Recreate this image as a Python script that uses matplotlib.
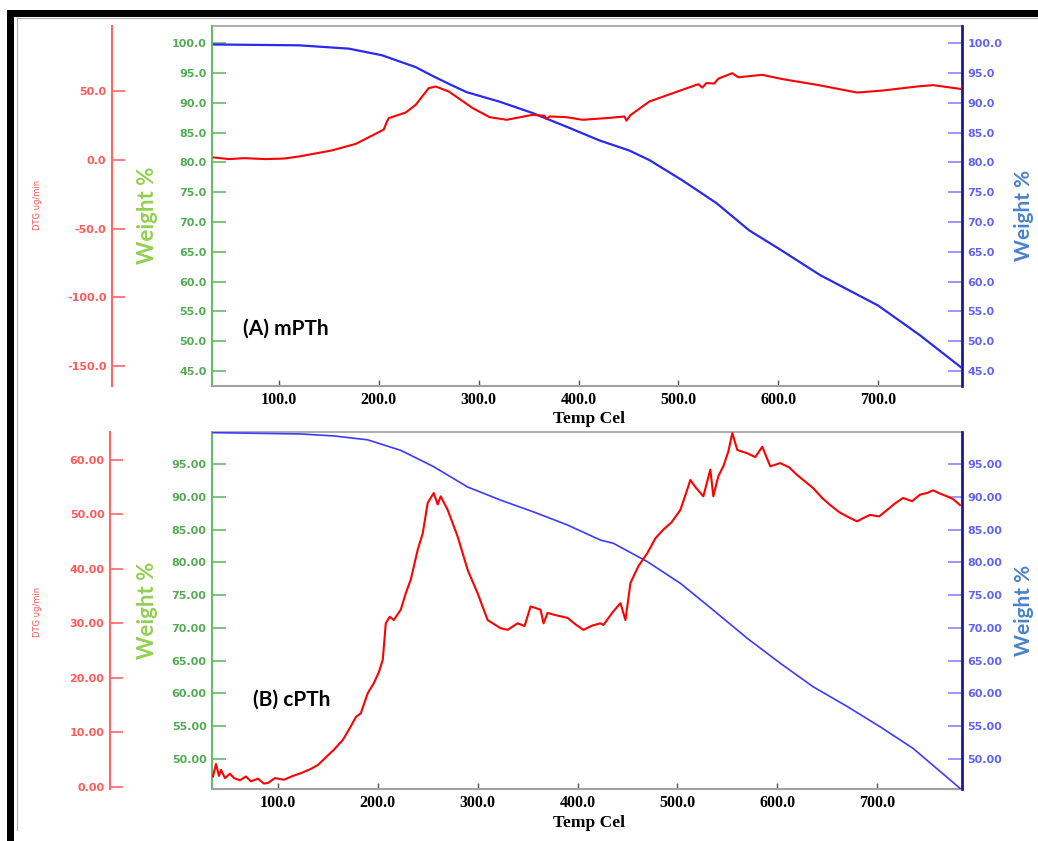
import matplotlib
matplotlib.use("Agg")
import matplotlib.pyplot as plt
from matplotlib.patches import Rectangle
from matplotlib.ticker import FormatStrFormatter

# (A) mPTh - weight % curve
top_wt_temp = [35, 120, 170, 203, 237, 253, 270, 288, 321, 354, 388, 421, 451, 471,
               504, 538, 571, 600, 642, 700, 742, 784]
top_wt = [99.8, 99.66, 99.1, 98.0, 96.0, 94.6, 93.2, 91.8, 90.2, 88.3, 86.0, 83.7, 82.0, 80.4,
          77.0, 73.2, 68.6, 65.6, 61.1, 56.0, 51.0, 45.5]

# (A) mPTh - DTG curve
top_dtg_temp = [35, 50, 65, 87, 105, 120, 153, 177, 193, 205, 208, 210, 227, 237, 250, 257,
                270, 294, 311, 328, 354, 366, 368, 371, 388, 404, 428, 446, 448, 452, 471,
                504, 520, 524, 528, 536, 540, 554, 560, 584, 604, 639, 679, 705, 739, 755, 782]
top_dtg = [1.7, 0.5, 1.2, 0.5, 0.9, 2.4, 6.8, 11.6, 17.5, 22.0, 27.5, 30.3, 34.4, 40.0, 52.1, 53.3,
           49.7, 37.6, 31.0, 29.1, 32.7, 32.0, 29.5, 31.5, 31.0, 29.1, 30.3, 31.5, 28.5, 32.5, 42.4,
           50.9, 55.0, 52.5, 55.8, 55.5, 59.0, 63.0, 60.0, 61.8, 58.7, 54.5, 48.9, 50.4, 53.3, 54.3, 51.6]

# (B) cPTh - weight % curve
bot_wt_temp = [35, 123, 156, 190, 223, 256, 290, 323, 356, 390, 423, 436, 470, 503,
               536, 570, 603, 636, 670, 703, 736, 783]
bot_wt = [99.8, 99.6, 99.3, 98.7, 97.1, 94.6, 91.5, 89.5, 87.7, 85.7, 83.4, 82.9, 80.1, 76.8,
          72.7, 68.4, 64.6, 61.0, 58.0, 54.9, 51.6, 45.5]

# (B) cPTh - DTG curve
bot_dtg_temp = [35, 38, 41, 43, 47, 52, 56, 62, 68, 73, 80, 86, 90, 97, 106, 115, 123, 132, 140,
                148, 156, 165, 173, 178, 183, 190, 196, 201, 205, 208, 212, 216, 223, 228, 233,
                240, 245, 250, 256, 260, 263, 270, 280, 290, 300, 310, 323, 330, 340, 347, 353,
                363, 366, 370, 378, 390, 398, 406, 415, 423, 426, 435, 443, 448, 453, 461, 470,
                478, 486, 494, 503, 508, 513, 518, 526, 533, 536, 541, 546, 551, 555, 560, 570,
                578, 585, 593, 603, 612, 620, 628, 636, 645, 653, 662, 670, 680, 686, 693, 702,
                710, 718, 726, 735, 743, 750, 756, 763, 770, 776, 783]
bot_dtg = [1.9, 4.2, 2.0, 3.1, 1.6, 2.4, 1.6, 1.2, 1.9, 1.0, 1.5, 0.6, 0.7, 1.6, 1.3, 2.0, 2.5, 3.2, 4.0,
           5.4, 6.8, 8.6, 11.1, 12.8, 13.5, 17.2, 19.0, 21.0, 23.3, 30.0, 31.2, 30.6, 32.5, 35.5, 38.0,
           43.5, 46.5, 52.1, 53.9, 51.8, 53.3, 50.8, 45.9, 39.8, 35.5, 30.6, 29.1, 28.8, 30.0, 29.5, 33.1,
           32.5, 30.0, 31.9, 31.5, 31.0, 29.8, 28.8, 29.6, 30.0, 29.7, 32.0, 33.7, 30.6, 37.4, 40.5, 42.9,
           45.6, 47.2, 48.5, 50.8, 53.5, 56.3, 55.0, 53.3, 58.2, 53.3, 57.0, 58.8, 61.5, 64.9, 61.8, 61.2,
           60.5, 62.4, 58.8, 59.4, 58.6, 57.2, 56.0, 54.8, 53.0, 51.7, 50.4, 49.6, 48.7, 49.3, 49.9, 49.6,
           50.8, 52.0, 53.0, 52.4, 53.6, 53.9, 54.4, 53.8, 53.3, 52.8, 51.7]

x_ticks = [100, 200, 300, 400, 500, 600, 700]
top_wt_ticks = [45, 50, 55, 60, 65, 70, 75, 80, 85, 90, 95, 100]
top_dtg_ticks = [-150, -100, -50, 0, 50]
bot_wt_ticks = [50, 55, 60, 65, 70, 75, 80, 85, 90, 95]
bot_dtg_ticks = [0, 10, 20, 30, 40, 50, 60]

W, H = 1038, 841
GREEN = "#55aa55"
RED = "#ff5a5a"
BLUE_TXT = "#6262f5"
TICK_FONT = {"family": "DejaVu Sans", "weight": "bold", "size": 8}


def fx(x):
    return x / W


def fy(y):
    return 1 - y / H


def draw_panel(fig, box, wt_t, wt, dtg_t, dtg, xlim, wlim, wticks, wfmt,
               dlim, dticks, dfmt, tag, tag_xy, red_pos, blue_color, blue_lw):
    left, top, right, bottom = box
    ax = fig.add_axes([fx(left), fy(bottom), fx(right) - fx(left), fy(top) - fy(bottom)])
    axb = ax.twinx()
    axd = ax.twinx()

    # green weight axis on the left
    ax.set_xlim(xlim)
    ax.set_ylim(wlim)
    ax.set_yticks(wticks)
    ax.yaxis.set_major_formatter(FormatStrFormatter(wfmt))
    ax.tick_params(axis="y", direction="in", length=10, width=1.2, color="#66bb66",
                   labelcolor=GREEN, pad=4)
    ax.set_xticks(x_ticks)
    ax.xaxis.set_major_formatter(FormatStrFormatter("%.1f"))
    ax.tick_params(axis="x", direction="in", length=4, width=1, color="#555555", pad=4)
    for lab in ax.get_yticklabels():
        lab.set_fontproperties(TICK_FONT)
    for lab in ax.get_xticklabels():
        lab.set_fontfamily("Liberation Serif")
        lab.set_fontweight("bold")
        lab.set_fontsize(11.5)
    ax.spines["left"].set_color("#66bb66")
    ax.spines["left"].set_linewidth(1.5)
    ax.spines["top"].set_color("#a0a0a0")
    ax.spines["bottom"].set_color("#a0a0a0")
    ax.spines["top"].set_linewidth(1.2)
    ax.spines["bottom"].set_linewidth(1.5)
    ax.spines["right"].set_visible(False)

    # blue weight axis on the right
    axb.set_ylim(wlim)
    axb.set_yticks(wticks)
    axb.yaxis.set_major_formatter(FormatStrFormatter(wfmt))
    axb.tick_params(axis="y", direction="in", length=10, width=1.2, color="#8888ff",
                    labelcolor=BLUE_TXT, pad=4)
    for lab in axb.get_yticklabels():
        lab.set_fontproperties(TICK_FONT)
    for s in ["left", "top", "bottom"]:
        axb.spines[s].set_visible(False)
    axb.spines["right"].set_color("#1a1a99")
    axb.spines["right"].set_linewidth(2)
    axb.plot(wt_t, wt, color=blue_color, lw=blue_lw, zorder=3)

    # red DTG axis, detached to the left
    axd.set_ylim(dlim)
    axd.set_yticks(dticks)
    axd.yaxis.set_major_formatter(FormatStrFormatter(dfmt))
    axd.yaxis.tick_left()
    for s in ["right", "top", "bottom"]:
        axd.spines[s].set_visible(False)
    axd.spines["left"].set_position(("axes", (red_pos - left) / (right - left)))
    axd.spines["left"].set_color("#ff6666")
    axd.spines["left"].set_linewidth(1.5)
    axd.tick_params(axis="y", direction="in", length=9, width=1.2, color="#ff6666",
                    labelcolor=RED, pad=4)
    for lab in axd.get_yticklabels():
        lab.set_fontproperties(TICK_FONT)
    axd.plot(dtg_t, dtg, color="#ff0000", lw=1.5, zorder=3)

    ax.text(tag_xy[0], tag_xy[1], tag, transform=ax.transAxes, fontfamily="Lato",
            fontweight="bold", fontsize=15, va="center", ha="left", color="black")
    return ax


fig = plt.figure(figsize=(W / 100, H / 100), dpi=100)

draw_panel(fig, (212, 26, 962, 386), top_wt_temp, top_wt, top_dtg_temp, top_dtg,
           (33, 784), (42.5, 102.9), top_wt_ticks, "%.1f",
           (-164.5, 97.3), top_dtg_ticks, "%.1f", "(A) mPTh", (0.041, 0.16), 112,
           "#2a2aee", 1.6)
draw_panel(fig, (212, 432, 962, 789), bot_wt_temp, bot_wt, bot_dtg_temp, bot_dtg,
           (34, 785), (45.4, 99.9), bot_wt_ticks, "%.2f",
           (-0.4, 65.1), bot_dtg_ticks, "%.2f", "(B) cPTh", (0.055, 0.25), 110,
           "#3b3bff", 1.2)

# x labels and side labels
for yt in [419, 823]:
    fig.text(fx(589), fy(yt), "Temp Cel", fontfamily="Liberation Serif", fontweight="bold",
             fontsize=12.5, ha="center", va="center")
for yc, ydtg in [(215, 205), (610, 612)]:
    fig.text(fx(147), fy(yc), "Weight %", rotation=90, color="#92d050", fontfamily="Lato",
             fontweight="bold", fontsize=16, ha="center", va="center")
    fig.text(fx(1024), fy(yc), "Weight %", rotation=90, color="#4a82cc", fontfamily="Lato",
             fontweight="bold", fontsize=15, ha="center", va="center")
    fig.text(fx(37), fy(ydtg), "DTG ug/min", rotation=90, color="#ff5555",
             fontfamily="DejaVu Sans", fontsize=6, ha="center", va="center")

# frame around the figure
fig.add_artist(Rectangle((fx(7), fy(17)), fx(1038) - fx(7), fy(10) - fy(17),
                         transform=fig.transFigure, color="black", lw=0))
fig.add_artist(Rectangle((fx(7), 0), fx(14) - fx(7), fy(10),
                         transform=fig.transFigure, color="black", lw=0))
fig.add_artist(plt.Line2D([fx(17), fx(17)], [fy(17), fy(830)], transform=fig.transFigure,
                          color="#b0b0b0", lw=0.8))
fig.add_artist(plt.Line2D([fx(17), 1], [fy(17.5), fy(17.5)], transform=fig.transFigure,
                          color="#b0b0b0", lw=0.8))

fig.savefig("out.png", dpi=100)
